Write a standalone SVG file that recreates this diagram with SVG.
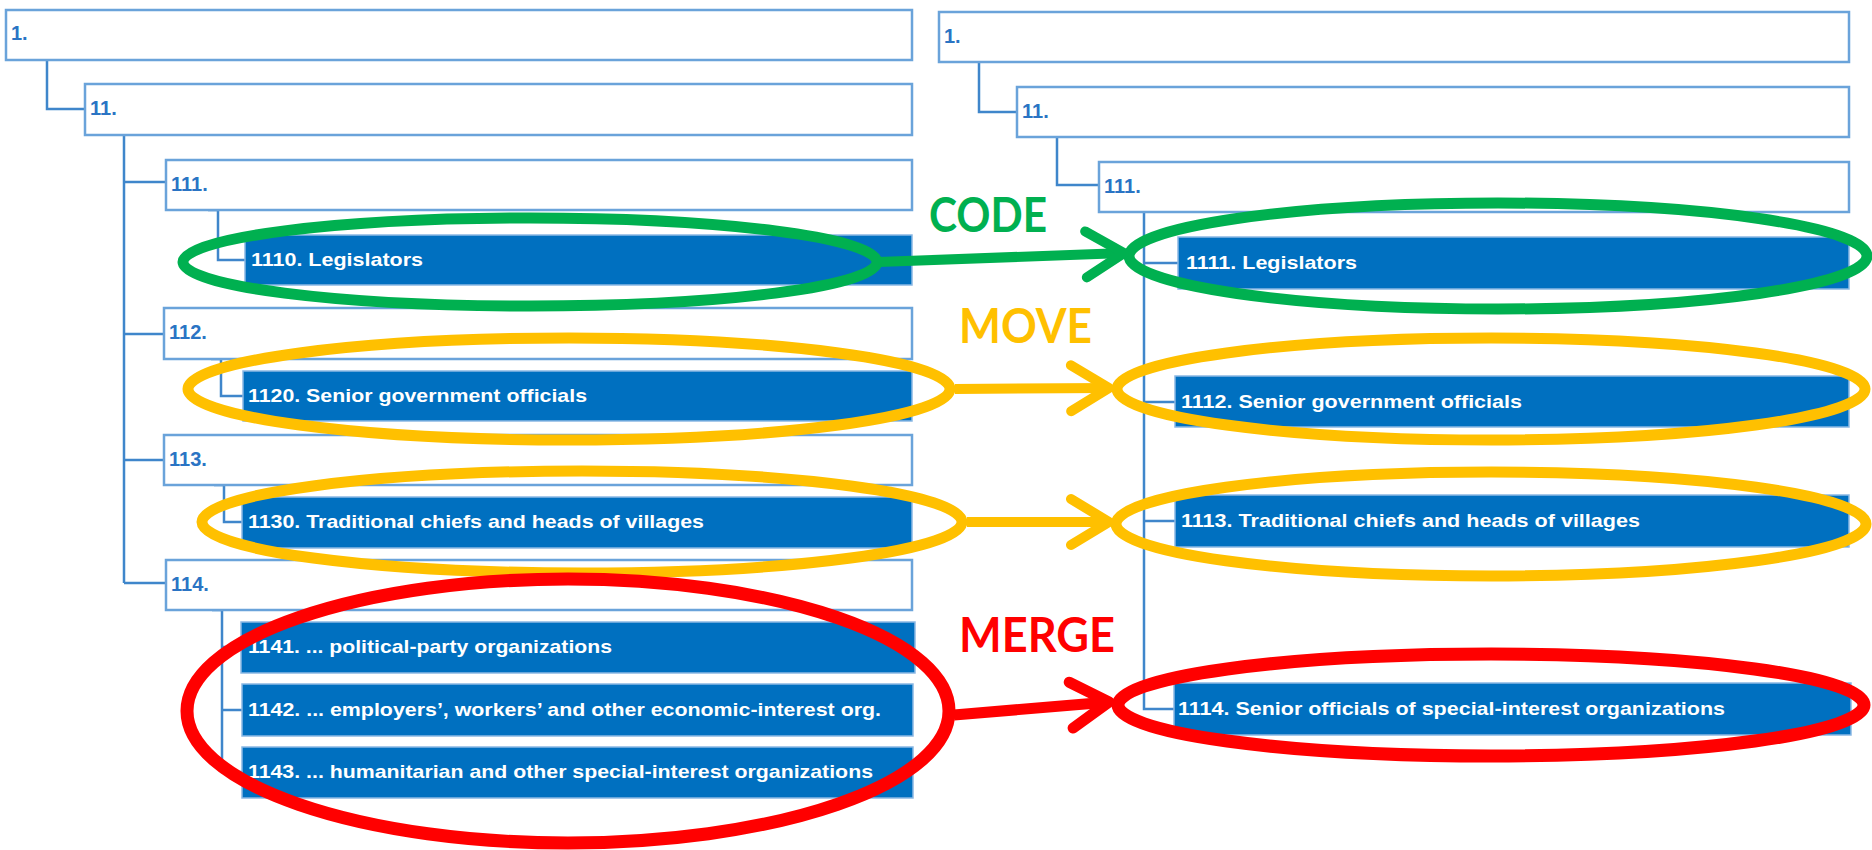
<svg xmlns="http://www.w3.org/2000/svg" width="1872" height="850" viewBox="0 0 1872 850">
<style>
.bx{fill:#fff;stroke:#6aa3da;stroke-width:2.5}
.fb{fill:#0070c0;stroke:#8ab8e4;stroke-width:1.5}
.lb{font-family:"Liberation Sans",Arial,sans-serif;font-weight:bold;font-size:20px;fill:#2a74c4}
.wt{font-family:"Liberation Sans",Arial,sans-serif;font-weight:bold;font-size:19px;fill:#fff}
.cn{fill:none;stroke:#3f86cb;stroke-width:2.5}
.el{fill:none}
.tag{font-family:Lato,"Open Sans",sans-serif;font-weight:bold;font-size:47px}
</style>
<defs>
<marker id="mg" markerUnits="userSpaceOnUse" viewBox="-50 -35 60 70" refX="0" refY="0" markerWidth="60" markerHeight="70" orient="auto" overflow="visible"><path d="M -38 -23 L 0 0 L -38 23" fill="none" stroke="#00b050" stroke-width="10" stroke-linecap="round" stroke-linejoin="round"/></marker>
<marker id="my" markerUnits="userSpaceOnUse" viewBox="-50 -35 60 70" refX="0" refY="0" markerWidth="60" markerHeight="70" orient="auto" overflow="visible"><path d="M -38 -23 L 0 0 L -38 23" fill="none" stroke="#ffc000" stroke-width="10" stroke-linecap="round" stroke-linejoin="round"/></marker>
<marker id="mr" markerUnits="userSpaceOnUse" viewBox="-50 -35 60 70" refX="0" refY="0" markerWidth="60" markerHeight="70" orient="auto" overflow="visible"><path d="M -38 -23 L 0 0 L -38 23" fill="none" stroke="#ff0000" stroke-width="11" stroke-linecap="round" stroke-linejoin="round"/></marker>
</defs>
<rect width="1872" height="850" fill="#fff"/>

<g id="tree-connectors">
<path class="cn" d="M 47 60 V 109 H 85"/>
<path class="cn" d="M 124 135 V 583 M 124 182 H 166 M 124 334 H 164 M 124 460 H 164 M 124 583 H 166"/>
<path class="cn" d="M 208 210 H 218 V 260 H 245"/>
<path class="cn" d="M 211 359 H 221 V 396 H 243"/>
<path class="cn" d="M 214 485 H 224 V 522 H 242"/>
<path class="cn" d="M 212 610 H 222 V 772 H 242 M 222 647 H 241 M 222 710 H 242"/>
<path class="cn" d="M 979 62 V 112 H 1017"/>
<path class="cn" d="M 1057 137 V 185 H 1099"/>
<path class="cn" d="M 1144 212 V 709 H 1174 M 1144 263 H 1178 M 1144 402 H 1175 M 1144 521 H 1175"/>
</g>

<g id="L1"><rect class="bx" x="6" y="10" width="906" height="50"/><text class="lb" x="11" y="40">1.</text></g>
<g id="L11"><rect class="bx" x="85" y="84" width="827" height="51"/><text class="lb" x="90" y="115">11.</text></g>
<g id="L111"><rect class="bx" x="166" y="160" width="746" height="50"/><text class="lb" x="171" y="191">111.</text></g>
<g id="L1110"><rect class="fb" x="245" y="235" width="667" height="50"/><text class="wt" x="251" y="266" textLength="172" lengthAdjust="spacingAndGlyphs">1110. Legislators</text></g>
<g id="L112"><rect class="bx" x="164" y="308" width="748" height="51"/><text class="lb" x="169" y="339">112.</text></g>
<g id="L1120"><rect class="fb" x="243" y="371" width="669" height="50"/><text class="wt" x="248" y="402" textLength="339" lengthAdjust="spacingAndGlyphs">1120. Senior government officials</text></g>
<g id="L113"><rect class="bx" x="164" y="435" width="748" height="50"/><text class="lb" x="169" y="466">113.</text></g>
<g id="L1130"><rect class="fb" x="242" y="497" width="670" height="51"/><text class="wt" x="248" y="528" textLength="456" lengthAdjust="spacingAndGlyphs">1130. Traditional chiefs and heads of villages</text></g>
<g id="L114"><rect class="bx" x="166" y="560" width="746" height="50"/><text class="lb" x="171" y="591">114.</text></g>
<g id="L1141"><rect class="fb" x="241" y="622" width="674" height="51"/><text class="wt" x="248" y="653" textLength="364" lengthAdjust="spacingAndGlyphs">1141. ... political-party organizations</text></g>
<g id="L1142"><rect class="fb" x="242" y="684" width="671" height="52"/><text class="wt" x="248" y="716" textLength="633" lengthAdjust="spacingAndGlyphs">1142. ... employers’, workers’ and other economic-interest org.</text></g>
<g id="L1143"><rect class="fb" x="242" y="747" width="671" height="51"/><text class="wt" x="248" y="778" textLength="625" lengthAdjust="spacingAndGlyphs">1143. ... humanitarian and other special-interest organizations</text></g>

<g id="R1"><rect class="bx" x="939" y="12" width="910" height="50"/><text class="lb" x="944" y="43">1.</text></g>
<g id="R11"><rect class="bx" x="1017" y="87" width="832" height="50"/><text class="lb" x="1022" y="118">11.</text></g>
<g id="R111"><rect class="bx" x="1099" y="162" width="750" height="50"/><text class="lb" x="1104" y="193">111.</text></g>
<g id="R1111"><rect class="fb" x="1178" y="237" width="671" height="52"/><text class="wt" x="1186" y="269" textLength="171" lengthAdjust="spacingAndGlyphs">1111. Legislators</text></g>
<g id="R1112"><rect class="fb" x="1175" y="376" width="674" height="51"/><text class="wt" x="1181" y="408" textLength="341" lengthAdjust="spacingAndGlyphs">1112. Senior government officials</text></g>
<g id="R1113"><rect class="fb" x="1175" y="495" width="674" height="52"/><text class="wt" x="1181" y="527" textLength="459" lengthAdjust="spacingAndGlyphs">1113. Traditional chiefs and heads of villages</text></g>
<g id="R1114"><rect class="fb" x="1174" y="683" width="677" height="52"/><text class="wt" x="1178" y="715" textLength="547" lengthAdjust="spacingAndGlyphs">1114. Senior officials of special-interest organizations</text></g>

<g id="highlights">
<ellipse class="el" cx="530" cy="262" rx="347" ry="44" stroke="#00b050" stroke-width="11"/>
<ellipse class="el" cx="1498" cy="256" rx="369" ry="53" stroke="#00b050" stroke-width="11"/>
<ellipse class="el" cx="569" cy="389" rx="381" ry="51" stroke="#ffc000" stroke-width="11"/>
<ellipse class="el" cx="1491" cy="389" rx="374" ry="51" stroke="#ffc000" stroke-width="11"/>
<ellipse class="el" cx="582" cy="522" rx="380" ry="51" stroke="#ffc000" stroke-width="11"/>
<ellipse class="el" cx="1491" cy="524" rx="375" ry="52" stroke="#ffc000" stroke-width="11"/>
<ellipse class="el" cx="568" cy="711" rx="381" ry="132" stroke="#ff0000" stroke-width="13"/>
<ellipse class="el" cx="1491" cy="705" rx="373" ry="51" stroke="#ff0000" stroke-width="13"/>
</g>

<g id="change-arrows">
<path d="M 878 262 L 1124 253" fill="none" stroke="#00b050" stroke-width="10" marker-end="url(#mg)"/>
<path d="M 955 389 L 1109 388" fill="none" stroke="#ffc000" stroke-width="10" marker-end="url(#my)"/>
<path d="M 967 522 L 1109 522" fill="none" stroke="#ffc000" stroke-width="10" marker-end="url(#my)"/>
<path d="M 954 715 L 1109 702" fill="none" stroke="#ff0000" stroke-width="11" marker-end="url(#mr)"/>
</g>

<g id="labels">
<text class="tag" x="929" y="232" fill="#00b050" textLength="118" lengthAdjust="spacingAndGlyphs">CODE</text>
<text class="tag" x="959" y="343" fill="#ffc000" textLength="133" lengthAdjust="spacingAndGlyphs">MOVE</text>
<text class="tag" x="959" y="652" fill="#ff0000" textLength="156" lengthAdjust="spacingAndGlyphs">MERGE</text>
</g>
</svg>
